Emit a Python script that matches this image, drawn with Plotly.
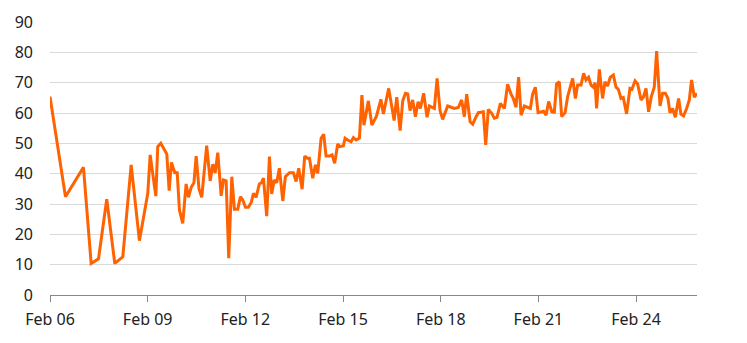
import plotly.graph_objects as go

times = [
    "2025-02-06 00:00", "2025-02-06 11:25", "2025-02-07 00:40", "2025-02-07 06:20", "2025-02-07 11:45",
    "2025-02-07 17:50", "2025-02-07 23:45", "2025-02-08 05:40", "2025-02-08 11:50", "2025-02-08 17:55",
    "2025-02-09 00:05", "2025-02-09 01:50", "2025-02-09 06:00", "2025-02-09 07:25", "2025-02-09 09:40",
    "2025-02-09 14:05", "2025-02-09 15:50", "2025-02-09 17:30", "2025-02-09 20:00", "2025-02-09 21:45",
    "2025-02-09 23:25", "2025-02-10 01:50", "2025-02-10 04:20", "2025-02-10 06:05", "2025-02-10 08:05",
    "2025-02-10 10:05", "2025-02-10 11:45", "2025-02-10 13:50", "2025-02-10 15:50", "2025-02-10 19:30",
    "2025-02-10 22:05", "2025-02-11 00:00", "2025-02-11 01:45", "2025-02-11 03:40", "2025-02-11 06:10",
    "2025-02-11 07:50", "2025-02-11 09:50", "2025-02-11 11:45", "2025-02-11 14:00", "2025-02-11 15:55",
    "2025-02-11 18:25", "2025-02-11 20:20", "2025-02-11 22:05", "2025-02-12 00:05", "2025-02-12 02:15",
    "2025-02-12 04:15", "2025-02-12 06:00", "2025-02-12 07:55", "2025-02-12 10:20", "2025-02-12 11:50",
    "2025-02-12 13:20", "2025-02-12 15:45", "2025-02-12 17:45", "2025-02-12 19:25", "2025-02-12 21:15",
    "2025-02-12 23:05", "2025-02-13 01:05", "2025-02-13 03:35", "2025-02-13 05:30", "2025-02-13 08:30",
    "2025-02-13 11:25", "2025-02-13 13:25", "2025-02-13 15:20", "2025-02-13 17:50", "2025-02-13 19:45",
    "2025-02-13 21:45", "2025-02-13 23:15", "2025-02-14 01:40", "2025-02-14 03:40", "2025-02-14 05:20",
    "2025-02-14 07:50", "2025-02-14 09:45", "2025-02-14 11:30", "2025-02-14 14:00", "2025-02-14 15:55",
    "2025-02-14 17:50", "2025-02-14 20:05", "2025-02-14 21:50", "2025-02-15 00:15", "2025-02-15 01:30",
    "2025-02-15 03:25", "2025-02-15 05:55", "2025-02-15 07:40", "2025-02-15 09:40", "2025-02-15 12:05",
    "2025-02-15 13:55", "2025-02-15 15:25", "2025-02-15 18:40", "2025-02-15 21:15", "2025-02-16 00:35",
    "2025-02-16 03:55", "2025-02-16 05:45", "2025-02-16 09:40", "2025-02-16 13:40", "2025-02-16 15:35",
    "2025-02-16 18:05", "2025-02-16 20:00", "2025-02-16 22:00", "2025-02-16 23:40", "2025-02-17 01:25",
    "2025-02-17 03:20", "2025-02-17 05:20", "2025-02-17 07:20", "2025-02-17 09:00", "2025-02-17 11:25",
    "2025-02-17 13:55", "2025-02-17 15:40", "2025-02-17 19:20", "2025-02-17 21:20", "2025-02-17 23:30",
    "2025-02-18 01:25", "2025-02-18 05:10", "2025-02-18 07:40", "2025-02-18 10:05", "2025-02-18 13:00",
    "2025-02-18 15:25", "2025-02-18 17:25", "2025-02-18 19:10", "2025-02-18 21:40", "2025-02-18 23:35",
    "2025-02-19 02:05", "2025-02-19 03:45", "2025-02-19 07:25", "2025-02-19 09:10", "2025-02-19 11:05",
    "2025-02-19 13:35", "2025-02-19 15:30", "2025-02-19 17:30", "2025-02-19 20:00", "2025-02-19 22:55",
    "2025-02-20 01:20", "2025-02-20 03:50", "2025-02-20 05:30", "2025-02-20 07:30", "2025-02-20 09:25",
    "2025-02-20 11:15", "2025-02-20 13:40", "2025-02-20 16:05", "2025-02-20 18:05", "2025-02-20 19:45",
    "2025-02-20 21:45", "2025-02-20 23:45", "2025-02-21 02:10", "2025-02-21 03:50", "2025-02-21 05:40",
    "2025-02-21 07:35", "2025-02-21 09:55", "2025-02-21 11:45", "2025-02-21 13:25", "2025-02-21 15:25",
    "2025-02-21 17:10", "2025-02-21 19:40", "2025-02-21 21:35", "2025-02-22 01:15", "2025-02-22 03:15",
    "2025-02-22 04:55", "2025-02-22 07:25", "2025-02-22 09:20", "2025-02-22 11:05", "2025-02-22 13:00",
    "2025-02-22 14:50", "2025-02-22 16:30", "2025-02-22 17:45", "2025-02-22 18:55", "2025-02-22 20:55",
    "2025-02-22 23:20", "2025-02-23 01:05", "2025-02-23 03:00", "2025-02-23 05:00", "2025-02-23 07:15",
    "2025-02-23 09:15", "2025-02-23 10:55", "2025-02-23 12:55", "2025-02-23 14:35", "2025-02-23 17:00",
    "2025-02-23 19:30", "2025-02-23 21:00", "2025-02-23 23:15", "2025-02-24 01:10", "2025-02-24 03:40",
    "2025-02-24 05:20", "2025-02-24 07:20", "2025-02-24 09:15", "2025-02-24 11:15", "2025-02-24 13:25",
    "2025-02-24 15:10", "2025-02-24 17:40", "2025-02-24 19:35", "2025-02-24 21:35", "2025-02-24 23:30",
    "2025-02-25 01:00", "2025-02-25 02:55", "2025-02-25 04:55", "2025-02-25 07:20", "2025-02-25 09:05",
    "2025-02-25 11:00", "2025-02-25 13:15", "2025-02-25 15:15", "2025-02-25 16:55", "2025-02-25 18:55",
    "2025-02-25 20:55",
]

values = [
    65.4, 32.4, 42.1, 10.4, 11.9, 31.6, 10.4, 12.6, 42.9, 17.9,
    33.5, 46.2, 32.6, 48.9, 50.0, 46.5, 34.4, 43.7, 40.3, 40.3,
    28.0, 23.6, 36.6, 32.2, 35.5, 37.0, 45.8, 35.0, 32.2, 49.2,
    37.6, 43.1, 40.3, 46.9, 32.7, 37.9, 37.6, 12.1, 39.0, 28.3,
    28.3, 32.4, 31.3, 28.9, 28.9, 30.4, 33.5, 32.2, 36.6, 37.0,
    38.5, 26.0, 45.6, 33.3, 37.9, 37.0, 41.8, 31.0, 39.0, 40.3,
    40.3, 37.4, 41.8, 34.9, 45.8, 45.1, 45.1, 38.5, 42.9, 40.1,
    51.7, 53.0, 45.8, 45.8, 46.2, 43.4, 49.8, 48.9, 49.2, 51.7,
    51.1, 50.5, 51.9, 51.1, 51.7, 65.9, 56.0, 64.0, 56.0, 58.9,
    64.5, 59.7, 68.1, 57.5, 65.2, 54.2, 64.0, 66.5, 66.3, 60.8,
    64.3, 58.8, 63.7, 61.5, 66.5, 58.6, 62.3, 61.5, 71.4, 60.8,
    57.9, 62.3, 61.9, 61.5, 61.8, 64.3, 58.8, 66.2, 57.1, 56.3,
    58.8, 60.1, 60.4, 49.5, 61.2, 59.9, 58.3, 58.6, 63.2, 61.5,
    69.5, 66.2, 64.8, 61.9, 71.8, 59.3, 62.3, 61.9, 61.5, 66.2,
    68.5, 60.1, 60.4, 60.6, 59.3, 63.8, 60.4, 60.3, 69.6, 70.3,
    58.8, 60.1, 65.4, 71.4, 64.8, 69.2, 69.2, 73.1, 70.9, 71.8,
    69.2, 68.5, 70.0, 61.5, 74.4, 64.8, 70.3, 68.9, 71.8, 72.5,
    68.5, 67.8, 64.8, 65.1, 59.7, 68.1, 67.8, 70.6, 69.6, 64.3,
    65.2, 68.1, 60.4, 65.4, 68.5, 80.4, 62.3, 66.5, 66.5, 64.8,
    60.1, 61.5, 58.6, 64.8, 59.6, 59.0, 61.5, 64.3, 70.9, 65.2,
    66.5,
]

y_ticks = [0, 10, 20, 30, 40, 50, 60, 70, 80, 90]

font_family = "Noto Sans, Open Sans, sans-serif"
text_color = "#222222"

fig = go.Figure()
fig.add_trace(go.Scatter(
    x=times, y=values, mode="lines",
    line=dict(color="#FF6200", width=3),
    hoverinfo="skip", showlegend=False,
))

fig.update_layout(
    width=747, height=343,
    margin=dict(l=50, r=50, t=22, b=48),
    paper_bgcolor="white", plot_bgcolor="white",
    font=dict(family=font_family, size=16, color=text_color),
    showlegend=False,
)

fig.update_xaxes(
    type="date",
    range=[times[0], times[-1]],
    tick0="2025-02-06",
    dtick=3 * 86400000,
    tickformat="%b %d",
    ticks="outside", ticklen=6, tickcolor="#888888", tickwidth=1,
    ticklabelstandoff=4,
    showline=True, linecolor="#888888", linewidth=1,
    showgrid=False, zeroline=False,
    tickfont=dict(size=16, color=text_color),
)

fig.update_yaxes(
    range=[0, 90],
    tickvals=y_ticks,
    showgrid=True, gridcolor="#d9d9d9", gridwidth=1,
    zeroline=False, showline=False, ticks="",
    ticklabelstandoff=16,
    tickfont=dict(size=16, color=text_color),
)

fig.write_html("out.html")
